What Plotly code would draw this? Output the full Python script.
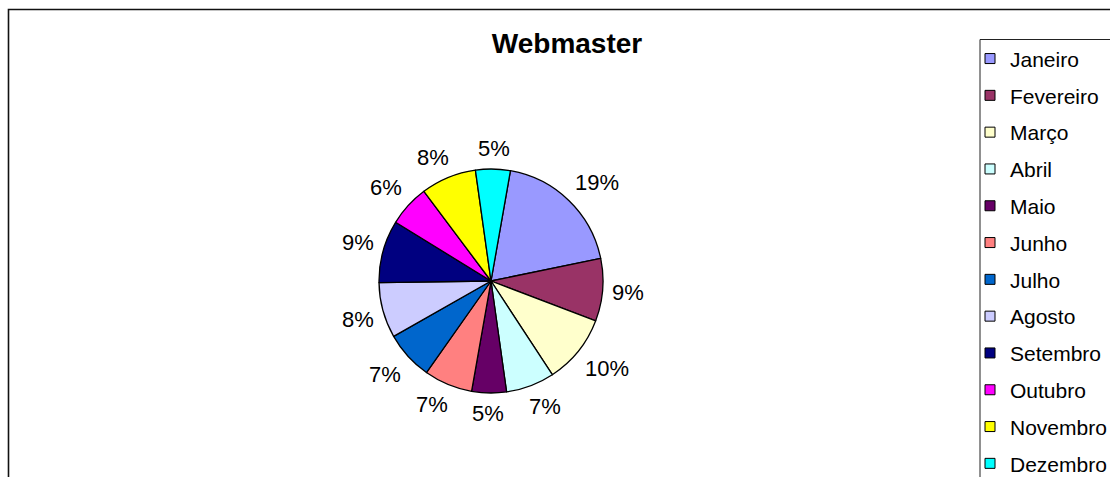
import math
import plotly.graph_objects as go

# Monthly share of visits for the Webmaster report
months = ["Janeiro", "Fevereiro", "Março", "Abril", "Maio", "Junho",
          "Julho", "Agosto", "Setembro", "Outubro", "Novembro", "Dezembro"]
shares = [19, 9, 10, 7, 5, 7, 7, 8, 9, 6, 8, 5]
colors = ["#9999FF", "#993366", "#FFFFCC", "#CCFFFF", "#660066", "#FF8080",
          "#0066CC", "#CCCCFF", "#000080", "#FF00FF", "#FFFF00", "#00FFFF"]

W, H = 1110, 477
FONT = "Liberation Sans, Arial, sans-serif"
LABEL_SIZE = 22
LEGEND_SIZE = 21

# pie geometry in pixels
cx, cy, r = 491, 281, 112
start_deg = 10  # first slice starts 10 degrees clockwise from 12 o'clock

fig = go.Figure()

fig.add_trace(go.Pie(
    labels=months,
    values=shares,
    sort=False,
    direction="clockwise",
    rotation=start_deg,
    marker=dict(colors=colors, line=dict(color="black", width=1.3)),
    textinfo="none",
    showlegend=False,
    domain=dict(x=[(cx - r) / W, (cx + r) / W],
                y=[(H - cy - r) / H, (H - cy + r) / H]),
    hoverinfo="label+percent",
))


def text_width(s, size):
    # rough Arial advance widths: digits 0.556 em, percent sign 0.889 em
    return sum(0.889 if ch == "%" else 0.556 for ch in s) * size


# percentage labels placed just outside each slice, at its mid angle
total = sum(shares)
annotations = []
acc = 0.0
gap, half_h = 9, 12
for v in shares:
    mid = math.radians(start_deg + 360.0 * (acc + v / 2) / total)
    acc += v
    ux, uy = math.sin(mid), -math.cos(mid)
    label = f"{round(100 * v / total)}%"
    half_w = text_width(label, LABEL_SIZE) / 2
    dx = (r + gap) * ux + math.copysign(half_w * min(1.0, 2 * abs(ux)), ux)
    dy = (r + gap) * uy + math.copysign(half_h * min(1.0, 2 * abs(uy)), uy)
    annotations.append(dict(
        text=label, xref="paper", yref="paper",
        x=(cx + dx) / W, y=1 - (cy + dy) / H,
        xanchor="center", yanchor="middle", showarrow=False,
        font=dict(family=FONT, size=LABEL_SIZE, color="black"),
    ))

# legend entries, one group per month so the spacing can be set
for name, c in zip(months, colors):
    fig.add_trace(go.Scatter(
        x=[None], y=[None], mode="markers", name=name, legendgroup=name,
        marker=dict(symbol="square", size=10, color=c,
                    line=dict(color="black", width=1)),
        hoverinfo="skip",
    ))

shapes = [
    # outer chart frame
    dict(type="rect", xref="paper", yref="paper",
         x0=8.5 / W, x1=1.05, y0=-0.05, y1=1 - 9.5 / H,
         line=dict(color="#111", width=1.6), fillcolor="rgba(0,0,0,0)"),
    # legend box
    dict(type="rect", xref="paper", yref="paper",
         x0=980 / W, x1=1.05, y0=-0.05, y1=1 - 39.5 / H,
         line=dict(color="#222", width=1), fillcolor="rgba(0,0,0,0)"),
]

fig.update_layout(
    width=W, height=H,
    margin=dict(l=0, r=0, t=0, b=0, autoexpand=False),
    paper_bgcolor="white", plot_bgcolor="white",
    xaxis=dict(visible=False), yaxis=dict(visible=False),
    shapes=shapes,
    annotations=annotations,
    title=dict(text="<b>Webmaster</b>", x=567 / W, xanchor="center",
               y=1 - 43 / H, yanchor="middle",
               font=dict(family=FONT, size=28, color="black")),
    legend=dict(x=970 / W, xanchor="left",
                y=1 - 38.4 / H, yanchor="top",
                font=dict(family=FONT, size=LEGEND_SIZE, color="black"),
                tracegroupgap=6.5, borderwidth=0, bgcolor="rgba(0,0,0,0)",
                itemclick=False, itemdoubleclick=False),
    showlegend=True,
)

fig.write_html("out.html")
